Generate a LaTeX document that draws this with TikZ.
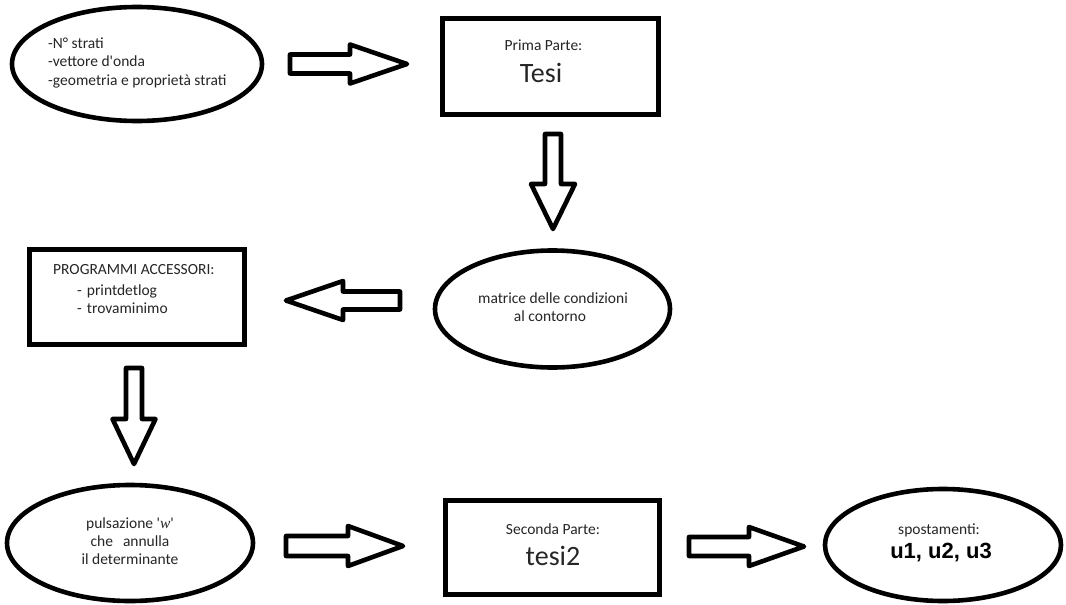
\documentclass[tikz,border=0pt]{standalone}
\usepackage{fontspec}
\setmainfont{Carlito}
\newfontfamily\arialf{Liberation Sans}
\newfontfamily\timesf{Liberation Serif}
\usetikzlibrary{shapes.geometric}
\definecolor{txt}{HTML}{262626}
\tikzset{
  ell/.style={draw=black, line width=4.6pt, ellipse, inner sep=0pt},
  rbox/.style={draw=black, line width=5pt, rectangle, inner sep=0pt},
  lbl/.style={inner sep=0pt, text=txt, font=\fontsize{15.5}{18.5}\selectfont},
  big/.style={inner sep=0pt, text=txt, font=\fontsize{28}{32}\selectfont},
  arrlen/.store in=\arrlen, arrbase/.store in=\arrbase,
  arrshaft/.store in=\arrshaft, arrhead/.store in=\arrhead,
  arrlen=117, arrbase=60, arrshaft=9.5, arrhead=19.5,
  blockarrow/.pic={\draw[line width=4.6pt, line join=round]
    (0,-\arrshaft) -- (\arrbase,-\arrshaft) -- (\arrbase,-\arrhead) -- (\arrlen,0)
    -- (\arrbase,\arrhead) -- (\arrbase,\arrshaft) -- (0,\arrshaft) -- cycle;}
}
\begin{document}
\begin{tikzpicture}[x=1pt,y=-1pt]
\fill[white] (0,0) rectangle (1066,605);
\useasboundingbox (0,0) rectangle (1066,605);

% nodes
\node[ell, minimum width=250pt, minimum height=114pt] (e1) at (137,64) {};
\node[lbl, anchor=base west] (e1a) at (48,48) {-N° strati};
\node[lbl, anchor=base west] (e1b) at (48,66.5) {-vettore d\textquotesingle onda};
\node[lbl, anchor=base west] (e1c) at (48,85) {-geometria e proprietà strati};

\node[rbox, minimum width=216pt, minimum height=96pt] (b1) at (550.5,66.5) {};
\node[lbl, anchor=base] (b1a) at (543.5,50) {Prima Parte:};
\node[big, anchor=base] (b1b) at (541,82) {Tesi};

\node[ell, minimum width=235pt, minimum height=117pt] (e2) at (552.5,309) {};
\node[lbl, anchor=base] (e2a) at (553,303) {matrice delle condizioni};
\node[lbl, anchor=base] (e2b) at (550,321) {al contorno};

\node[rbox, minimum width=215pt, minimum height=95pt] (b2) at (137,297) {};
\node[lbl, anchor=base west] (b2a) at (53,274) {PROGRAMMI ACCESSORI:};
\node[lbl, anchor=base west] (b2b) at (77,295) {-\hspace{5pt}printdetlog};
\node[lbl, anchor=base west] (b2c) at (77,313) {-\hspace{5pt}trovaminimo};

\node[ell, minimum width=246pt, minimum height=116pt] (e3) at (130,543) {};
\node[lbl, anchor=base] (e3a) at (130,528) {pulsazione \textquotesingle{\timesf\itshape w}\textquotesingle};
\node[lbl, anchor=base] (e3b) at (130,546) {che\hspace{10pt}annulla};
\node[lbl, anchor=base] (e3c) at (130,564) {il determinante};

\node[rbox, minimum width=214pt, minimum height=94pt] (b3) at (552.5,547.5) {};
\node[lbl, anchor=base] (b3a) at (553,534) {Seconda Parte:};
\node[big, anchor=base] (b3b) at (553,565) {tesi2};

\node[ell, minimum width=236pt, minimum height=112pt] (e4) at (943,545) {};
\node[lbl, anchor=base] (e4a) at (939,534) {spostamenti:};
\node[inner sep=0pt, anchor=base, font=\arialf\bfseries\fontsize{22}{26}\selectfont] (e4b) at (941,558) {u1, u2, u3};

% block arrows (tails as named coordinates)
\coordinate (t1) at (290,64);
\coordinate (t2) at (400,300.5);
\coordinate (t3) at (553,134);
\coordinate (t4) at (134,368);
\coordinate (t5) at (286,546);
\coordinate (t6) at (689,546.5);
\pic (a1) at (t1) {blockarrow};
\pic[rotate=180, arrlen=114, arrbase=57, arrshaft=9, arrhead=19.5] (a2) at (t2) {blockarrow};
\pic[rotate=-90, arrlen=95, arrbase=50, arrshaft=8, arrhead=22] (a3) at (t3) {blockarrow};
\pic[rotate=-90, arrlen=96, arrbase=51, arrshaft=8, arrhead=21.5] (a4) at (t4) {blockarrow};
\pic[arrlen=117, arrbase=62, arrshaft=10, arrhead=20] (a5) at (t5) {blockarrow};
\pic[arrlen=115, arrbase=60, arrshaft=9.5, arrhead=19.5] (a6) at (t6) {blockarrow};
\end{tikzpicture}
\end{document}
